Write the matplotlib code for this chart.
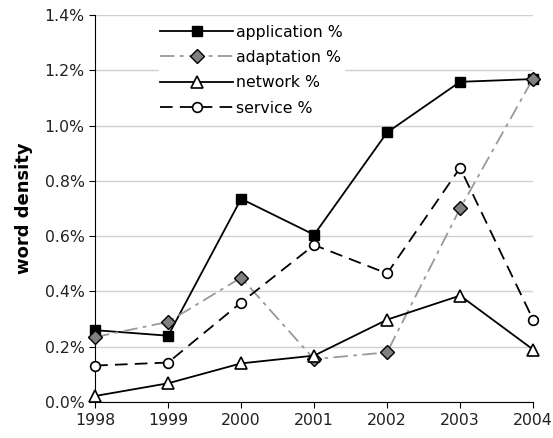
import matplotlib
matplotlib.use("Agg")
import matplotlib.pyplot as plt
from matplotlib.ticker import FuncFormatter

years = [1998, 1999, 2000, 2001, 2002, 2003, 2004]
application = [0.26, 0.24, 0.735, 0.605, 0.975, 1.158, 1.168]
adaptation = [0.235, 0.29, 0.45, 0.155, 0.18, 0.70, 1.17]
network = [0.022, 0.068, 0.14, 0.168, 0.298, 0.385, 0.19]
service = [0.132, 0.143, 0.36, 0.568, 0.465, 0.847, 0.298]
labels = ["application %", "adaptation %", "network %", "service %"]

plt.rcParams['font.family'] = ['DejaVu Sans']
fig = plt.figure(figsize=(5.53, 4.38), dpi=100)
ax = fig.add_axes([0.172, 0.082, 0.792, 0.884])

ax.plot(years, application, color='black', lw=1.3, marker='s', ms=7.5,
        mfc='black', mec='black', label=labels[0], zorder=3, clip_on=False)
ax.plot(years, adaptation, color='#999999', lw=1.3, ls=(0, (8, 3, 2, 3)), marker='D', ms=7.3,
        mfc='#808080', mec='black', mew=1.0, label=labels[1], zorder=4, clip_on=False)
ax.plot(years, network, color='black', lw=1.3, marker='^', ms=8,
        mfc='white', mec='black', mew=1.2, label=labels[2], zorder=5, clip_on=False)
ax.plot(years, service, color='black', lw=1.3, ls=(0, (7, 4)), marker='o', ms=7,
        mfc='white', mec='black', mew=1.2, label=labels[3], zorder=4.5, clip_on=False)

ax.set_xlim(1998, 2004)
ax.set_ylim(0, 1.4)
ax.set_xticks(years)
ax.set_yticks([0, 0.2, 0.4, 0.6, 0.8, 1.0, 1.2, 1.4])
ax.yaxis.set_major_formatter(FuncFormatter(lambda v, p: f"{v:.1f}%"))
ax.tick_params(labelsize=11.3, length=4, color='black', labelcolor='#222222')
ax.yaxis.grid(True, color='#d0d0d0', lw=1)
ax.set_axisbelow(True)
for s in ['top', 'right']:
    ax.spines[s].set_visible(False)
ax.set_ylabel("word density", fontsize=13, fontweight='bold', labelpad=8)

leg = ax.legend(loc='upper left', bbox_to_anchor=(0.127, 1.0), frameon=True,
                fontsize=11.3, handlelength=4.6, handletextpad=0.2,
                labelspacing=0.66, borderpad=0.12)
leg.get_frame().set_edgecolor('white')
leg.get_frame().set_facecolor('white')
leg.get_frame().set_alpha(1)
leg.get_frame().set_boxstyle('square', pad=0)

fig.savefig("out.png", dpi=100)
